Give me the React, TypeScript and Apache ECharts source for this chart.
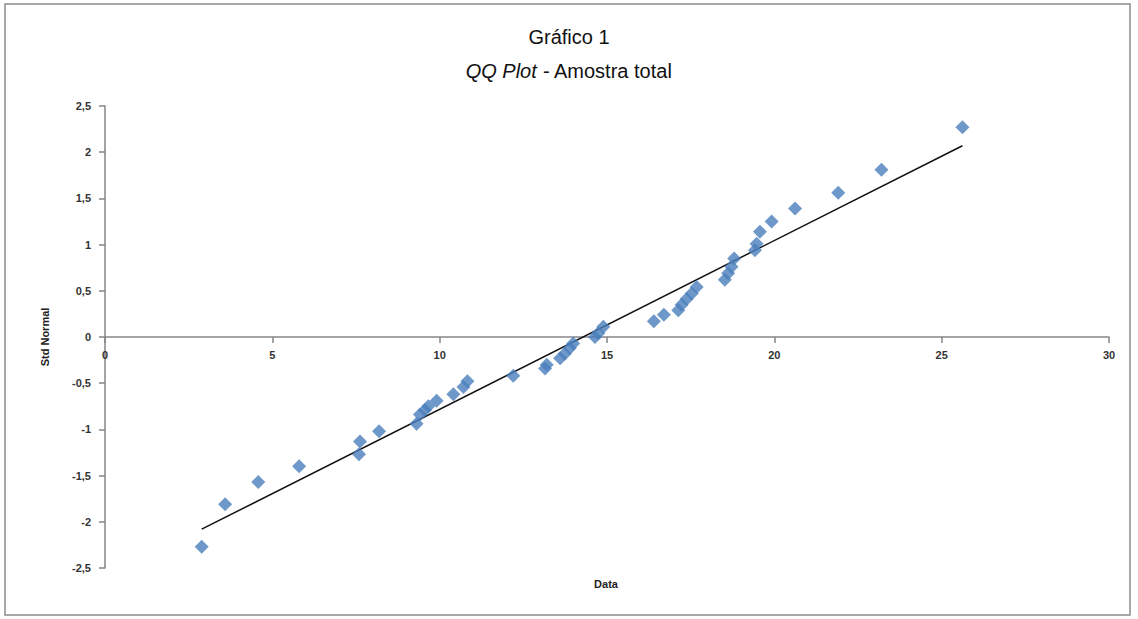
import React, { useEffect, useRef } from "react";
import * as echarts from "echarts";

const dataX = [2.89, 3.59, 4.58, 5.8, 7.59, 7.62, 8.19, 9.31, 9.41, 9.56, 9.66, 9.91, 10.41, 10.71, 10.83, 12.2, 13.15, 13.2, 13.6, 13.74, 13.89, 13.99, 14.64, 14.74, 14.89, 16.4, 16.7, 17.13, 17.23, 17.38, 17.53, 17.68, 18.52, 18.62, 18.72, 18.8, 19.42, 19.47, 19.57, 19.92, 20.62, 21.91, 23.2, 25.62];
const stdNormal = [-2.27, -1.81, -1.57, -1.4, -1.27, -1.13, -1.02, -0.94, -0.84, -0.79, -0.75, -0.69, -0.62, -0.54, -0.48, -0.42, -0.34, -0.3, -0.23, -0.18, -0.12, -0.07, 0.0, 0.04, 0.11, 0.17, 0.24, 0.29, 0.35, 0.41, 0.47, 0.54, 0.62, 0.69, 0.76, 0.85, 0.94, 1.01, 1.14, 1.25, 1.39, 1.56, 1.81, 2.27];
const lineX = [2.89, 25.62];
const lineY = [-2.08, 2.07];

const FONT = "Liberation Sans";
const GRID_TOP = 106;
const GRID_BOTTOM = 51;
const HEIGHT = 619;
const Y_MIN = -2.5;
const Y_MAX = 2.5;

export default function App() {
  const ref = useRef<HTMLDivElement>(null);
  useEffect(() => {
    const chart = echarts.init(ref.current!, null, { renderer: "svg" });
    const fmt = (v: number) => String(v).replace(".", ",");
    const gridH = HEIGHT - GRID_TOP - GRID_BOTTOM;
    const zeroOffset = -Math.round((gridH * (0 - Y_MIN)) / (Y_MAX - Y_MIN));
    chart.setOption({
      animation: false,
      backgroundColor: "#ffffff",
      title: {
        left: "center",
        top: 15,
        text: "Gráfico 1\n{i|QQ Plot} - Amostra total",
        textStyle: {
          fontFamily: FONT,
          fontSize: 20,
          fontWeight: "normal",
          color: "#111",
          lineHeight: 34,
          rich: {
            i: { fontFamily: FONT, fontSize: 20, fontStyle: "italic", color: "#111", lineHeight: 34 },
          },
        },
      },
      grid: { left: 105, right: 29, top: GRID_TOP, bottom: GRID_BOTTOM, containLabel: false },
      xAxis: {
        type: "value",
        min: 0,
        max: 30,
        interval: 5,
        position: "bottom",
        offset: zeroOffset,
        axisLine: { onZero: false, lineStyle: { color: "#868686", width: 1.5 } },
        axisTick: { show: true, inside: false, length: 6, lineStyle: { color: "#868686", width: 1.5 } },
        axisLabel: { fontFamily: FONT, fontSize: 11, fontWeight: "bold", color: "#333", margin: 12 },
        splitLine: { show: false },
      },
      yAxis: {
        type: "value",
        min: Y_MIN,
        max: Y_MAX,
        interval: 0.5,
        axisLine: { show: true, onZero: false, lineStyle: { color: "#868686", width: 1.5 } },
        axisTick: { show: true, length: 6, lineStyle: { color: "#868686", width: 1.5 } },
        axisLabel: { fontFamily: FONT, fontSize: 11, fontWeight: "bold", color: "#333", margin: 14, formatter: fmt },
        splitLine: { show: false },
        name: "Std Normal",
        nameLocation: "middle",
        nameGap: 55,
        nameRotate: 90,
        nameTextStyle: { fontFamily: FONT, fontSize: 11, fontWeight: "bold", color: "#222" },
      },
      graphic: [
        {
          type: "rect",
          shape: { x: 5, y: 4, width: 1125, height: 611 },
          style: { fill: "none", stroke: "#8c8c8c", lineWidth: 1.5 },
          silent: true,
        },
        {
          type: "text",
          x: 606,
          y: 584,
          style: { text: "Data", fontFamily: FONT, fontSize: 11, fontWeight: "bold", fill: "#222", textAlign: "center", textVerticalAlign: "middle" },
        },
      ],
      series: [
        {
          type: "line",
          data: lineX.map((x, i) => [x, lineY[i]]),
          showSymbol: false,
          symbol: "none",
          lineStyle: { color: "#111", width: 1.5 },
          z: 1,
        },
        {
          type: "scatter",
          data: dataX.map((x, i) => [x, stdNormal[i]]),
          symbol: "diamond",
          symbolSize: 14,
          itemStyle: { color: "#4a7ebb" },
          z: 2,
        },
      ],
    });
    return () => chart.dispose();
  }, []);
  return <div ref={ref} style={{ position: "fixed", left: 0, top: 0, width: 1138, height: 619 }} />;
}
